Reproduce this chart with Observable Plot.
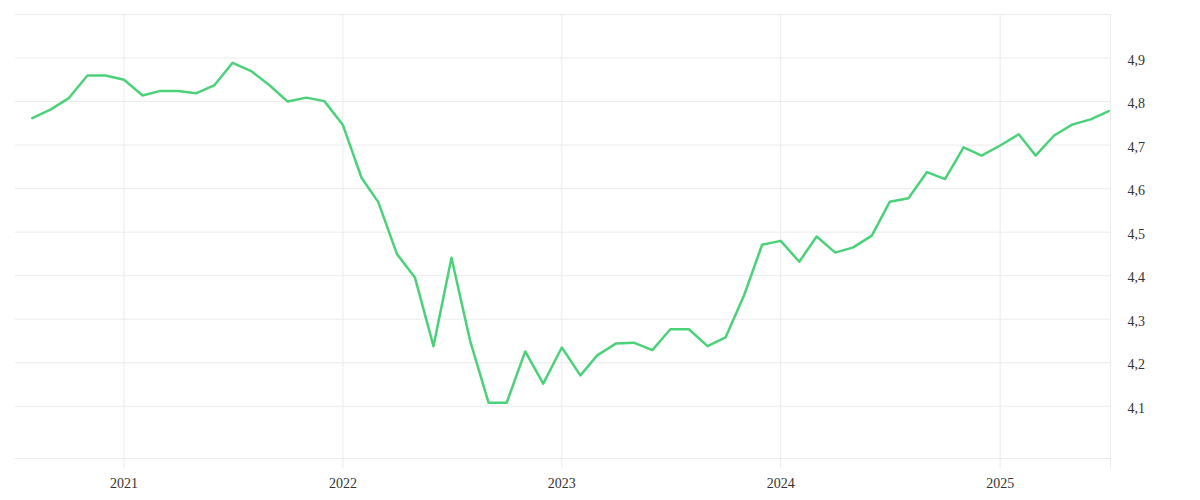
<!DOCTYPE html>
<html>
<head>
<meta charset="utf-8">
<script src="https://cdn.jsdelivr.net/npm/d3@7"></script>
<script src="https://cdn.jsdelivr.net/npm/@observablehq/plot@0.6"></script>
<style>
  html, body { margin: 0; padding: 0; background: #fff; }
  #chart svg { display: block; }
</style>
</head>
<body>
<div id="chart"></div>
<script>
// Monthly observations, Aug 2020 – Jul 2025
const months = [
  "2020-08","2020-09","2020-10","2020-11","2020-12",
  "2021-01","2021-02","2021-03","2021-04","2021-05","2021-06","2021-07","2021-08","2021-09","2021-10","2021-11","2021-12",
  "2022-01","2022-02","2022-03","2022-04","2022-05","2022-06","2022-07","2022-08","2022-09","2022-10","2022-11","2022-12",
  "2023-01","2023-02","2023-03","2023-04","2023-05","2023-06","2023-07","2023-08","2023-09","2023-10","2023-11","2023-12",
  "2024-01","2024-02","2024-03","2024-04","2024-05","2024-06","2024-07","2024-08","2024-09","2024-10","2024-11","2024-12",
  "2025-01","2025-02","2025-03","2025-04","2025-05","2025-06","2025-07"
];
const values = [
  4.762, 4.782, 4.808, 4.860, 4.860,
  4.850, 4.814, 4.824, 4.824, 4.819, 4.838, 4.889, 4.870, 4.837, 4.800, 4.809, 4.801,
  4.746, 4.625, 4.569, 4.450, 4.396, 4.238, 4.441, 4.251, 4.108, 4.108, 4.226, 4.152,
  4.235, 4.171, 4.217, 4.244, 4.246, 4.229, 4.277, 4.277, 4.238, 4.258, 4.355, 4.471,
  4.480, 4.432, 4.490, 4.453, 4.465, 4.492, 4.570, 4.578, 4.638, 4.622, 4.695, 4.676,
  4.699, 4.725, 4.676, 4.722, 4.747, 4.759, 4.778
];
const yearTicks = ["2021-01-01","2022-01-01","2023-01-01","2024-01-01","2025-01-01"];
const yTicks = [4.1, 4.2, 4.3, 4.4, 4.5, 4.6, 4.7, 4.8, 4.9];
const xDomain = ["2020-07-04", "2025-07-04"];
const yDomain = [3.98, 5.0];

const data = months.map((m, i) => ({date: new Date(m + "-01T00:00:00Z"), value: values[i]}));
const years = yearTicks.map(d => new Date(d + "T00:00:00Z"));
const xDom = xDomain.map(d => new Date(d + "T00:00:00Z"));

const gridColor = "#ebebeb";
const textColor = "#333333";

const chart = Plot.plot({
  width: 1200,
  height: 500,
  marginLeft: 15,
  marginRight: 90,
  marginTop: 14,
  marginBottom: 42,
  style: {fontFamily: "'Liberation Serif', serif", fontSize: "14px", color: textColor, background: "#fff"},
  x: {type: "utc", domain: xDom},
  y: {domain: yDomain},
  marks: [
    Plot.ruleY([...yTicks, yDomain[0], yDomain[1]], {stroke: gridColor, strokeWidth: 1}),
    Plot.ruleX([...years, xDom[1]], {stroke: gridColor, strokeWidth: 1, insetBottom: -10}),
    Plot.axisX({ticks: years, tickSize: 0, tickPadding: 20, tickFormat: d3.utcFormat("%Y"), fill: textColor, label: null}),
    Plot.axisY({anchor: "right", ticks: yTicks, tickSize: 0, tickPadding: 17, textAnchor: "start", dy: 2,
      tickFormat: d => d.toFixed(1).replace(".", ","), fill: textColor, label: null}),
    Plot.line(data, {x: "date", y: "value", stroke: "#4cd17b", strokeWidth: 2.5, strokeLinejoin: "round"})
  ]
});
document.getElementById("chart").append(chart);
</script>
</body>
</html>
